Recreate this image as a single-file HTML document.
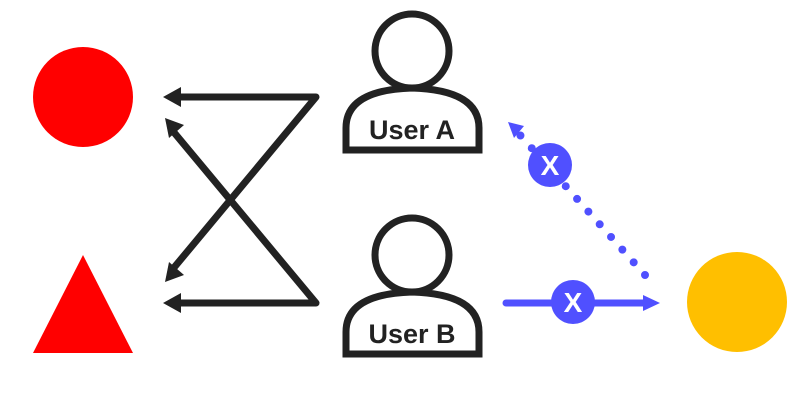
<!DOCTYPE html>
<html><head><style>body{margin:0;background:#fff}</style></head><body>
<svg width="804" height="400" viewBox="0 0 804 400" xmlns="http://www.w3.org/2000/svg">
<circle cx="83" cy="97" r="50" fill="#ff0000"/>
<polygon points="83,255 133,353 33,353" fill="#ff0000"/>
<circle cx="737" cy="302" r="50" fill="#ffbf00"/>
<g stroke="#222" stroke-width="7" fill="none" stroke-linecap="round" stroke-linejoin="round">
<polyline points="176,97 316,97 172,270"/>
<polyline points="176,303 316,303 172,130"/>
</g>
<g fill="#222">
<polygon points="163,97 181,87 181,107"/>
<polygon points="163,303 181,293 181,313"/>
<polygon points="165,118 184,125 169,138"/>
<polygon points="165,282 169,262 184,275"/>
</g>
<g stroke="#222" stroke-width="7" fill="#fff">
<circle cx="412" cy="51" r="37"/>
<path d="M346,150 L346,128 Q346,90 412,88 Q479,90 479,128 L479,150 Z"/>
<circle cx="412" cy="255" r="37"/>
<path d="M346,354 L346,332 Q346,294 412,292 Q479,294 479,332 L479,354 Z"/>
</g>
<g font-family="Liberation Sans, sans-serif" font-weight="bold" font-size="27" fill="#222" text-anchor="middle">
<text x="412" y="139">User A</text>
<text x="412" y="343">User B</text>
</g>
<line x1="506" y1="303" x2="648" y2="303" stroke="#5050ff" stroke-width="7" stroke-linecap="round"/>
<polygon points="660,303 643,295 643,311" fill="#5050ff"/>
<line x1="645" y1="275" x2="520" y2="135" stroke="#5050ff" stroke-width="8" stroke-linecap="round" stroke-dasharray="0 17"/>
<polygon points="508,122 524,126 514,138" fill="#5050ff"/>
<circle cx="573" cy="302" r="22" fill="#5050ff"/>
<circle cx="550" cy="165" r="22" fill="#5050ff"/>
<g font-family="Liberation Sans, sans-serif" font-weight="bold" font-size="28" fill="#fff" text-anchor="middle">
<text x="573" y="312">X</text>
<text x="550" y="175">X</text>
</g>
</svg>
</body></html>
